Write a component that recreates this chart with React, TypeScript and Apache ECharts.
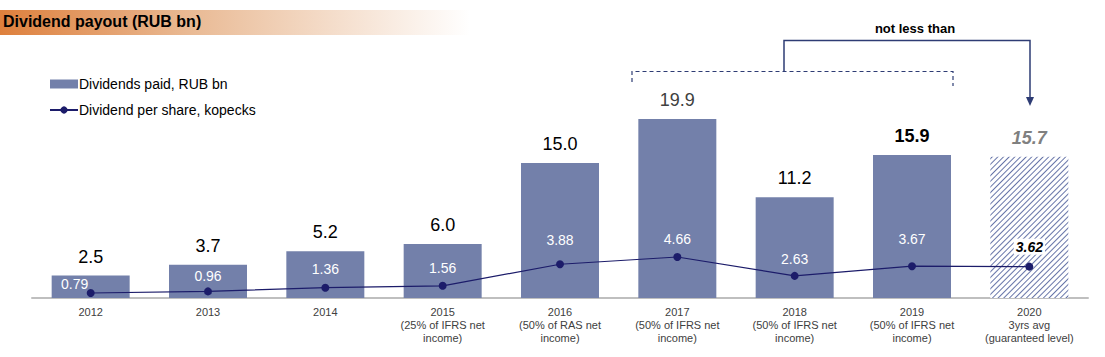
import React, { useEffect, useRef } from "react";
import * as echarts from "echarts";

const categories = [
  "2012",
  "2013",
  "2014",
  "2015\n(25% of IFRS net\nincome)",
  "2016\n(50% of RAS net\nincome)",
  "2017\n(50% of IFRS net\nincome)",
  "2018\n(50% of IFRS net\nincome)",
  "2019\n(50% of IFRS net\nincome)",
  "2020\n3yrs avg\n(guaranteed level)",
];
const dividendsPaid = [2.5, 3.7, 5.2, 6.0, 15.0, 19.9, 11.2, 15.9, 15.7];
const dividendPerShare = [0.79, 0.96, 1.36, 1.56, 3.88, 4.66, 2.63, 3.67, 3.62];
const dpsLabelDistance = [0, 4, 8, 7, 13, 7, 6, 16, 8];

const FONT = "'Liberation Sans', Arial, sans-serif";
const BAR = "#7380aa";
const NAVY = "#1c1c6a";
const BRACKET = "#2e3c74";

export default function App() {
  const ref = useRef<HTMLDivElement>(null);
  useEffect(() => {
    if (!ref.current) return;
    const chart = echarts.init(ref.current, null, { renderer: "svg" });

    const barData = dividendsPaid.map((v, i) => {
      const item: any = { value: v };
      if (i === 5) item.label = { color: "#404040" };
      if (i === 7) item.label = { fontWeight: "bold" };
      if (i === 8) {
        item.label = { fontWeight: "bold", fontStyle: "italic", color: "#808080" };
        item.itemStyle = {
          color: "#ffffff",
          decal: {
            symbol: "rect",
            symbolSize: 1,
            color: "#6674a8",
            dashArrayX: [1, 0],
            dashArrayY: [1, 2.6],
            rotation: -Math.PI / 4,
          },
        };
      }
      return item;
    });

    const lineData = dividendPerShare.map((v, i) => {
      const item: any = { value: v, label: { distance: dpsLabelDistance[i] } };
      if (i === 0) item.label = { distance: 5, offset: [-16, 7] };
      if (i === 8)
        item.label = {
          distance: 8,
          color: "#000",
          fontWeight: "bold",
          fontStyle: "italic",
          backgroundColor: "#ffffff",
          padding: [1, 2],
        };
      return item;
    });

    chart.setOption({
      animation: false,
      textStyle: { fontFamily: FONT },
      grid: { left: 32, right: 17, top: 100, bottom: 59 },
      legend: {
        left: 44,
        top: 72,
        orient: "vertical",
        itemWidth: 28,
        itemHeight: 9,
        itemGap: 12,
        textStyle: { fontSize: 14, color: "#000", fontFamily: FONT, padding: [0, 0, 0, -4] },
        data: [
          { name: "Dividends paid, RUB bn", icon: "rect" },
          { name: "Dividend per share, kopecks" },
        ],
      },
      xAxis: {
        type: "category",
        data: categories,
        axisLine: { lineStyle: { color: "#bfbfbf", width: 2 } },
        axisTick: { show: false },
        axisLabel: {
          color: "#404040",
          fontSize: 11,
          lineHeight: 13,
          margin: 7,
          interval: 0,
          fontFamily: FONT,
        },
      },
      yAxis: [
        { type: "value", min: 0, max: 22, show: false, splitLine: { show: false } },
        { type: "value", min: 0.25, max: 21.54, show: false, splitLine: { show: false } },
      ],
      series: [
        {
          name: "Dividends paid, RUB bn",
          type: "bar",
          barWidth: 78,
          itemStyle: { color: BAR },
          label: {
            show: true,
            position: "top",
            distance: 10,
            fontSize: 18,
            color: "#000",
            fontFamily: FONT,
            formatter: (p: any) => p.value.toFixed(1),
          },
          data: barData,
        },
        {
          name: "Dividend per share, kopecks",
          type: "line",
          yAxisIndex: 1,
          symbol: "circle",
          symbolSize: 8,
          lineStyle: { color: NAVY, width: 1.2 },
          itemStyle: { color: NAVY },
          label: {
            show: true,
            position: "top",
            fontSize: 14,
            color: "#ffffff",
            fontFamily: FONT,
            formatter: (p: any) => p.value.toFixed(2),
          },
          data: lineData,
          z: 5,
        },
      ],
      graphic: [
        {
          type: "rect",
          left: 0,
          top: 10,
          shape: { width: 470, height: 25 },
          style: {
            fill: new echarts.graphic.LinearGradient(0, 0, 1, 0, [
              { offset: 0, color: "#de803d" },
              { offset: 0.4, color: "#e9b993" },
              { offset: 1, color: "#ffffff" },
            ]),
          },
          z: 0,
        },
        {
          type: "text",
          left: 3,
          top: 13,
          style: {
            text: "Dividend payout (RUB bn)",
            font: "bold 16px " + FONT,
            fill: "#000",
          },
        },
        {
          type: "polyline",
          shape: { points: [[632, 82], [632, 71.5], [953, 71.5], [953, 86]] },
          style: { stroke: BRACKET, lineWidth: 1.2, lineDash: [4, 3], fill: null },
        },
        {
          type: "polyline",
          shape: { points: [[784, 71.5], [784, 40.5], [1030, 40.5], [1030, 99]] },
          style: { stroke: BRACKET, lineWidth: 1.5, fill: null },
        },
        {
          type: "polygon",
          shape: { points: [[1026, 97], [1034, 97], [1030, 106]] },
          style: { fill: BRACKET },
        },
        {
          type: "text",
          x: 915,
          y: 28,
          style: {
            text: "not less than",
            font: "bold 13px " + FONT,
            fill: "#000",
            align: "center",
            verticalAlign: "middle",
          },
        },
      ],
    });
    return () => chart.dispose();
  }, []);
  return (
    <div
      ref={ref}
      style={{ position: "absolute", left: 0, top: 0, width: 1105, height: 357 }}
    />
  );
}
